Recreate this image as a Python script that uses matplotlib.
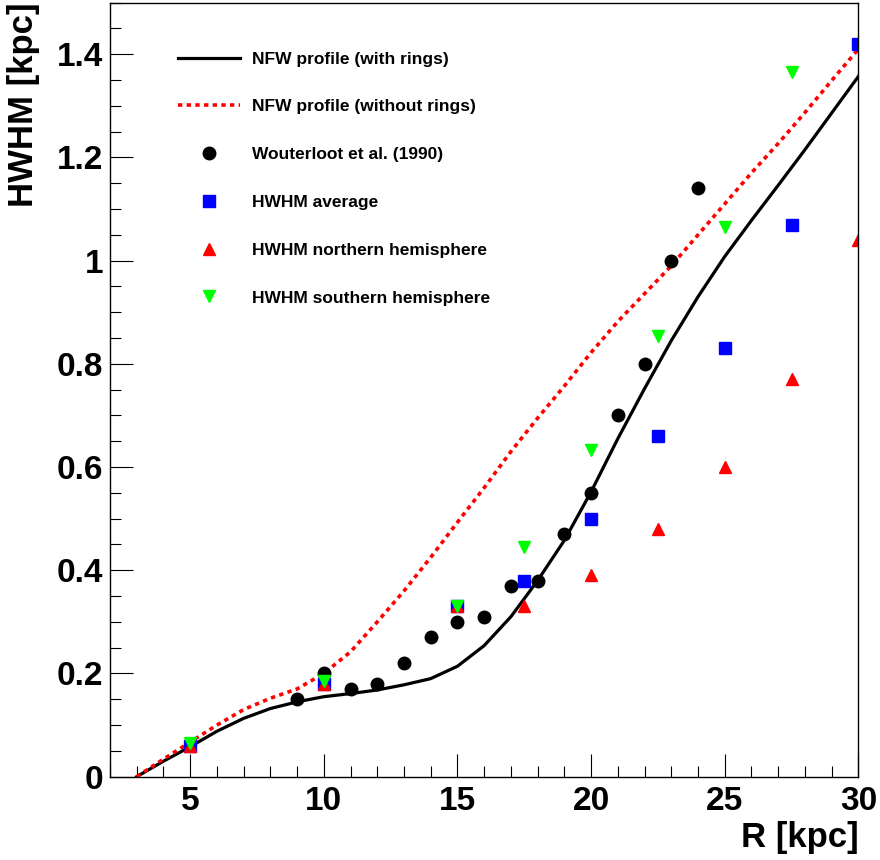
import matplotlib.pyplot as plt
from matplotlib.ticker import MultipleLocator, FormatStrFormatter

plt.rcParams['font.family'] = ['Liberation Sans', 'DejaVu Sans']
plt.rcParams['font.weight'] = 'bold'

# NFW model curves, HWHM vs galactocentric radius
r_model = [3, 4, 5, 6, 7, 8, 9, 10, 11, 12, 13, 14, 15, 16, 17, 18, 19, 20, 21,
           22, 23, 24, 25, 26, 27, 28, 29, 30]
hwhm_rings = [0.0, 0.03, 0.058, 0.088, 0.113, 0.132, 0.145, 0.155, 0.161, 0.168,
              0.178, 0.19, 0.214, 0.254, 0.31, 0.38, 0.458, 0.552, 0.655, 0.752,
              0.845, 0.93, 1.008, 1.078, 1.146, 1.215, 1.286, 1.357]
hwhm_norings = [0.0, 0.034, 0.067, 0.1, 0.13, 0.152, 0.17, 0.2, 0.242, 0.3,
                0.36, 0.425, 0.493, 0.56, 0.63, 0.695, 0.757, 0.822, 0.882, 0.936,
                0.99, 1.05, 1.11, 1.17, 1.227, 1.287, 1.349, 1.41]

# Wouterloot et al. (1990)
r_wout = [9, 10, 11, 12, 13, 14, 15, 16, 17, 18, 19, 20, 21, 22, 23, 24]
hwhm_wout = [0.15, 0.20, 0.17, 0.18, 0.22, 0.27, 0.30, 0.31, 0.37, 0.38, 0.47,
             0.55, 0.70, 0.80, 1.00, 1.14]

# measured HWHM
r_meas = [5, 10, 15, 17.5, 20, 22.5, 25, 27.5, 30]
hwhm_avg = [0.06, 0.18, 0.33, 0.38, 0.50, 0.66, 0.83, 1.07, 1.42]
hwhm_north = [0.06, 0.18, 0.33, 0.33, 0.39, 0.48, 0.60, 0.77, 1.04]
r_south = [5, 10, 15, 17.5, 20, 22.5, 25, 27.5]
hwhm_south = [0.065, 0.185, 0.33, 0.445, 0.633, 0.854, 1.065, 1.366]

fig = plt.figure(figsize=(8.8, 8.6), dpi=100)
ax = fig.add_axes([0.125, 0.0969, 0.8504, 0.9])

ax.plot(r_model, hwhm_rings, color='black', lw=2.3, label='NFW profile (with rings)')
ax.plot(r_model, hwhm_norings, color='red', lw=2.6, linestyle=(0, (1.2, 1.2)),
        label='NFW profile (without rings)')
ax.plot(r_wout, hwhm_wout, 'o', color='black', ms=9, label='Wouterloot et al. (1990)')
ax.plot(r_meas, hwhm_avg, 's', color='blue', ms=8.5, mec='blue', label='HWHM average')
ax.plot(r_meas, hwhm_north, '^', color='red', ms=9, mec='red',
        label='HWHM northern hemisphere')
ax.plot(r_south, hwhm_south, 'v', color='#00ff00', ms=9, mec='#00ff00',
        label='HWHM southern hemisphere')

ax.set_xlim(2, 30)
ax.set_ylim(0, 1.5)
ax.xaxis.set_major_locator(MultipleLocator(5))
ax.xaxis.set_minor_locator(MultipleLocator(1))
ax.yaxis.set_major_locator(MultipleLocator(0.2))
ax.yaxis.set_minor_locator(MultipleLocator(0.05))
ax.yaxis.set_major_formatter(FormatStrFormatter('%g'))

ax.tick_params(which='both', direction='in', top=False, right=False, width=0.8)
ax.tick_params(which='major', length=16.5, labelsize=24)
ax.tick_params(axis='x', which='major', pad=7)
ax.tick_params(axis='y', which='major', pad=5)
ax.tick_params(which='minor', length=8)
for s in ax.spines.values():
    s.set_linewidth(1.0)

ax.set_xlabel('R [kpc]', fontsize=25, fontweight='bold', ha='right', va='center')
ax.xaxis.set_label_coords(1.0, -0.079)
ax.set_ylabel('HWHM [kpc]', fontsize=25, fontweight='bold', ha='right', va='center')
ax.yaxis.set_label_coords(-0.115, 1.0)

leg = ax.legend(loc='upper left', bbox_to_anchor=(0.091, 0.937), frameon=False,
                fontsize=12.5, borderpad=0, borderaxespad=0, handlelength=3.55,
                handletextpad=0.7, labelspacing=1.88, numpoints=1)

plt.savefig('out.png', dpi=100)
